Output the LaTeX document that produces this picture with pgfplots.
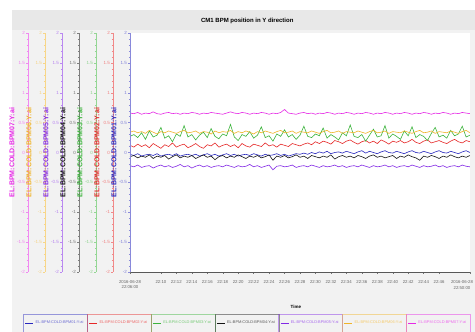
\documentclass[border=0pt]{standalone}
\usepackage{pgfplots}
\pgfplotsset{compat=1.18}
\usepackage{pgfplotstable}
\usepackage{fontspec}
\setmainfont{Liberation Sans}

\definecolor{cA}{RGB}{40,40,190}
\definecolor{cB}{RGB}{230,40,40}
\definecolor{cC}{RGB}{60,180,60}
\definecolor{cD}{RGB}{20,20,20}
\definecolor{cE}{RGB}{130,40,230}
\definecolor{cF}{RGB}{240,180,40}
\definecolor{cG}{RGB}{230,40,230}
\definecolor{panel}{RGB}{242,242,242}
\definecolor{band}{RGB}{232,232,232}

\pgfplotstableread{
x b1 b2 b3 b4 b5 b6 b7
0 -0.03 0.12 0.27 -0.07 -0.22 0.34 0.66
0.5 -0.05 0.09 0.30 -0.05 -0.24 0.36 0.65
1 -0.02 0.14 0.25 -0.09 -0.21 0.33 0.67
1.5 -0.06 0.10 0.33 -0.06 -0.25 0.35 0.64
2 -0.04 0.13 0.22 -0.08 -0.23 0.32 0.66
2.5 -0.03 0.08 0.36 -0.04 -0.22 0.37 0.65
3 -0.05 0.15 0.26 -0.10 -0.26 0.34 0.68
3.5 -0.02 0.11 0.29 -0.06 -0.23 0.31 0.65
4 -0.06 0.07 0.42 -0.08 -0.21 0.35 0.64
4.5 -0.04 0.13 0.24 -0.05 -0.24 0.33 0.66
5 -0.03 0.10 0.28 -0.11 -0.22 0.36 0.67
5.5 -0.05 0.16 0.18 -0.07 -0.25 0.34 0.65
6 -0.02 0.09 0.31 -0.04 -0.23 0.32 0.66
6.5 -0.06 0.12 0.27 -0.09 -0.20 0.35 0.64
7 -0.04 0.14 0.45 -0.06 -0.24 0.37 0.66
7.5 -0.03 0.08 0.26 -0.08 -0.22 0.33 0.65
8 -0.05 0.11 0.30 -0.05 -0.26 0.34 0.67
8.5 -0.03 0.15 0.21 -0.10 -0.23 0.36 0.66
9 -0.06 0.10 0.29 -0.07 -0.21 0.32 0.64
9.5 -0.04 0.07 0.34 -0.04 -0.24 0.35 0.66
10 -0.02 0.13 0.25 -0.08 -0.22 0.34 0.65
10.5 -0.05 0.11 0.40 -0.06 -0.25 0.31 0.67
11 -0.03 0.16 0.27 -0.12 -0.23 0.36 0.66
11.5 -0.06 0.09 0.23 -0.07 -0.22 0.33 0.65
12 -0.04 0.12 0.31 -0.05 -0.24 0.35 0.64
12.5 -0.02 0.14 0.28 -0.09 -0.21 0.34 0.66
13 -0.05 0.10 0.47 -0.06 -0.23 0.37 0.68
13.5 -0.03 0.13 0.26 -0.08 -0.25 0.32 0.66
14 -0.06 0.08 0.20 -0.04 -0.22 0.35 0.65
14.5 -0.04 0.15 0.30 -0.07 -0.24 0.33 0.67
15 -0.03 0.11 0.27 -0.10 -0.23 0.36 0.66
15.5 -0.05 0.09 0.35 -0.06 -0.20 0.34 0.64
16 -0.02 0.14 0.24 -0.08 -0.24 0.31 0.66
16.5 -0.04 0.12 0.29 -0.05 -0.22 0.35 0.65
17 -0.06 0.10 0.43 -0.09 -0.25 0.33 0.67
17.5 -0.03 0.16 0.25 -0.07 -0.23 0.36 0.66
18 -0.05 0.11 0.28 -0.04 -0.21 0.34 0.64
18.5 -0.04 0.13 0.19 -0.13 -0.29 0.32 0.66
19 -0.02 0.09 0.31 -0.06 -0.23 0.35 0.65
19.5 -0.05 0.14 0.27 -0.08 -0.22 0.37 0.67
20 -0.03 0.12 0.38 -0.05 -0.24 0.33 0.72
20.5 -0.06 0.10 0.26 -0.09 -0.23 0.34 0.66
21 -0.04 0.15 0.30 -0.07 -0.21 0.36 0.65
21.5 -0.02 0.13 0.22 -0.04 -0.25 0.32 0.64
22 -0.03 0.11 0.29 -0.08 -0.23 0.35 0.66
22.5 -0.01 0.14 0.44 -0.06 -0.22 0.34 0.67
23 -0.03 0.16 0.27 -0.10 -0.24 0.33 0.65
23.5 0.00 0.13 0.25 -0.05 -0.21 0.36 0.66
24 -0.02 0.18 0.31 -0.07 -0.23 0.34 0.64
24.5 0.01 0.15 0.28 -0.09 -0.25 0.32 0.66
25 -0.01 0.19 0.41 -0.06 -0.22 0.35 0.65
25.5 0.02 0.17 0.24 -0.08 -0.24 0.37 0.67
26 -0.02 0.14 0.30 -0.04 -0.23 0.33 0.66
26.5 0.00 0.20 0.26 -0.11 -0.21 0.34 0.64
27 0.01 0.18 0.21 -0.07 -0.24 0.36 0.66
27.5 -0.01 0.15 0.33 -0.05 -0.22 0.32 0.65
28 0.02 0.19 0.28 -0.08 -0.25 0.35 0.67
28.5 0.00 0.21 0.46 -0.06 -0.23 0.34 0.66
29 -0.02 0.17 0.27 -0.09 -0.22 0.33 0.64
29.5 0.01 0.14 0.25 -0.05 -0.24 0.36 0.66
30 0.03 0.18 0.30 -0.07 -0.21 0.34 0.65
30.5 -0.01 0.20 0.19 -0.10 -0.23 0.32 0.67
31 0.02 0.16 0.29 -0.06 -0.25 0.35 0.66
31.5 0.00 0.19 0.39 -0.04 -0.22 0.37 0.64
32 -0.02 0.15 0.26 -0.08 -0.24 0.33 0.66
32.5 0.01 0.21 0.28 -0.06 -0.23 0.34 0.65
33 0.03 0.18 0.45 -0.09 -0.21 0.36 0.67
33.5 0.00 0.14 0.24 -0.07 -0.24 0.32 0.66
34 -0.01 0.19 0.31 -0.05 -0.22 0.35 0.64
34.5 0.02 0.17 0.27 -0.10 -0.25 0.34 0.66
35 0.00 0.20 0.22 -0.06 -0.23 0.33 0.65
35.5 -0.02 0.16 0.36 -0.08 -0.22 0.36 0.67
36 0.01 0.18 0.28 -0.04 -0.24 0.34 0.66
36.5 0.03 0.22 0.43 -0.07 -0.21 0.32 0.64
37 0.00 0.17 0.25 -0.09 -0.23 0.35 0.66
37.5 -0.01 0.15 0.30 -0.13 -0.25 0.37 0.65
38 0.02 0.19 0.27 -0.06 -0.22 0.33 0.67
38.5 0.00 0.21 0.20 -0.08 -0.24 0.34 0.66
39 -0.02 0.16 0.32 -0.05 -0.23 0.36 0.64
39.5 0.01 0.18 0.42 -0.07 -0.21 0.32 0.66
40 0.03 0.20 0.26 -0.10 -0.24 0.35 0.65
40.5 0.00 0.17 0.29 -0.06 -0.22 0.34 0.67
41 -0.01 0.15 0.24 -0.08 -0.25 0.33 0.66
41.5 0.02 0.19 0.37 -0.04 -0.23 0.36 0.64
42 0.00 0.22 0.28 -0.07 -0.22 0.34 0.66
42.5 -0.02 0.18 0.31 -0.09 -0.24 0.32 0.65
43 0.01 0.16 0.44 -0.06 -0.21 0.35 0.67
43.5 0.03 0.20 0.26 -0.08 -0.23 0.37 0.66
44 0.00 0.18 0.29 -0.05 -0.24 0.33 0.65
}\bpmdata

\newcommand{\decoraxis}[3]{%
\begin{axis}[at={(#1pt,60pt)}, anchor=south west, scale only axis,
  width=1pt, height=239pt, xmin=0, xmax=1, ymin=-2, ymax=2,
  axis x line=none, axis y line*=left,
  y axis line style={draw=#2!55, line width=0.4pt},
  ytick={-2,-1.5,-1,-0.5,0,0.5,1,1.5,2}, minor y tick num=4,
  tick align=outside, major tick length=2pt, minor tick length=1.2pt,
  every tick/.style={draw=#2!55, line width=0.3pt},
  yticklabel style={font=\fontsize{4.5}{5}\selectfont, text=#2!60, inner sep=1pt},
  /pgf/number format/assume math mode=true,
  ylabel={#3},
  every axis y label/.style={at={(axis description cs:-10,0.5)}, rotate=90, anchor=south,
    font=\bfseries\fontsize{7}{7}\selectfont, text=#2}]
\end{axis}}

\begin{document}
\begin{tikzpicture}
\useasboundingbox (0pt,0pt) rectangle (475pt,332pt);
\fill[panel] (12pt,0pt) rectangle (475pt,322pt);
\fill[band] (12pt,302pt) rectangle (475pt,322pt);
\begin{axis}[at={(130pt,60pt)}, anchor=south west, scale only axis,
  width=340pt, height=239pt, xmin=0, xmax=44, ymin=-2, ymax=2,
  axis x line*=bottom, axis y line=none, ytick=\empty,
  axis background/.style={fill=white},
  x axis line style={draw=black!65, line width=0.6pt},
  xtick={4,6,...,40},
  xticklabels={22:10,22:12,22:14,22:16,22:18,22:20,22:22,22:24,22:26,22:28,22:30,22:32,22:34,22:36,22:38,22:40,22:42,22:44,22:46},
  extra x ticks={0,44},
  extra x tick labels={{2016-06-28\\22:06:00},{\hbox to 6pt{\hss\shortstack{2016-06-28\\22:50:00}}}},
  minor x tick num=3, tick align=outside, major tick length=2pt, minor tick length=1pt,
  every tick/.style={draw=black!55, line width=0.3pt},
  xticklabel style={font=\fontsize{4.3}{5}\selectfont, text=black!60, align=center, yshift=-3pt},
  /pgf/number format/assume math mode=true,
  xlabel={Time},
  xlabel style={at={(axis description cs:0.488,0)}, anchor=center, yshift=-35pt,
    font=\bfseries\fontsize{4.5}{5}\selectfont},
  title={CM1 BPM position in Y direction},
  title style={at={(axis description cs:0.345,1)}, anchor=center, yshift=6pt,
    font=\bfseries\fontsize{6}{7}\selectfont},
  legend columns=7,
  legend style={at={(axis description cs:-0.309,-0.2134)}, anchor=west, draw=none, fill=none,
    font=\fontsize{3.9}{4}\selectfont, inner sep=0pt,
    /tikz/every even column/.append style={column sep=3.5pt}},
  legend image code/.code={\draw[#1] (0pt,0pt) -- (8pt,0pt);
    \draw[#1, overlay, line width=0.5pt, draw opacity=0.45] (-2pt,-9pt) rectangle (62pt,9pt);},
  every axis plot/.append style={line width=0.6pt}
]
\addplot[cA] table[x=x,y=b1]{\bpmdata};
\addlegendentry[text=cA!70]{EL:BPM:COLD:BPM01:Y:ai}
\addplot[cB] table[x=x,y=b2]{\bpmdata};
\addlegendentry[text=cB!70]{EL:BPM:COLD:BPM02:Y:ai}
\addplot[cC] table[x=x,y=b3]{\bpmdata};
\addlegendentry[text=cC!70]{EL:BPM:COLD:BPM03:Y:ai}
\addplot[cD] table[x=x,y=b4]{\bpmdata};
\addlegendentry[text=cD!70]{EL:BPM:COLD:BPM04:Y:ai}
\addplot[cE] table[x=x,y=b5]{\bpmdata};
\addlegendentry[text=cE!70]{EL:BPM:COLD:BPM05:Y:ai}
\addplot[cF] table[x=x,y=b6]{\bpmdata};
\addlegendentry[text=cF!70]{EL:BPM:COLD:BPM06:Y:ai}
\addplot[cG] table[x=x,y=b7]{\bpmdata};
\addlegendentry[text=cG!70]{EL:BPM:COLD:BPM07:Y:ai}
\end{axis}
\decoraxis{28}{cG}{EL:BPM:COLD:BPM07:Y:ai}
\decoraxis{45}{cF}{EL:BPM:COLD:BPM06:Y:ai}
\decoraxis{62}{cE}{EL:BPM:COLD:BPM05:Y:ai}
\decoraxis{79}{cD}{EL:BPM:COLD:BPM04:Y:ai}
\decoraxis{96}{cC}{EL:BPM:COLD:BPM03:Y:ai}
\decoraxis{113}{cB}{EL:BPM:COLD:BPM02:Y:ai}
\decoraxis{130}{cA}{EL:BPM:COLD:BPM01:Y:ai}
\end{tikzpicture}
\end{document}
